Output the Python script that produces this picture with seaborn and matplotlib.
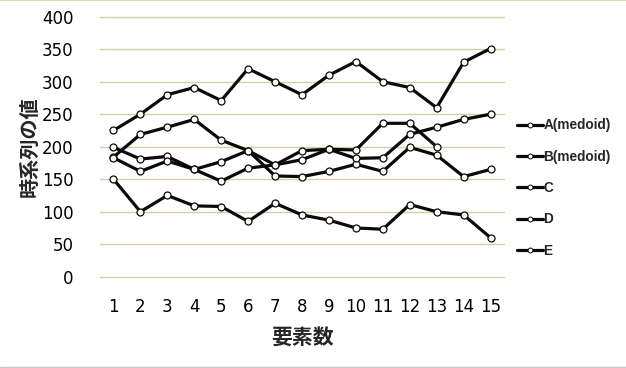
import numpy as np
import pandas as pd
import matplotlib
matplotlib.use("Agg")
import matplotlib.pyplot as plt
import seaborn as sns
from matplotlib.lines import Line2D

x_values = list(range(1, 16))
series_names = ["A(medoid)", "B(medoid)", "C", "D", "E"]
a_values = [225, 250, 280, 291, 271, 320, 300, 280, 310, 331, 300, 291, 260, 330, 351]
b_values = [150, 100, 125, 109, 108, 85, 113, 95, 87, 75, 73, 111, 100, 95, 60]
c_values = [184, 219, 230, 242, 210, 194, 155, 154, 162, 173, 162, 199, 187, 154, 165]
d_values = [199, 181, 185, 165, 177, 194, 172, 194, 196, 195, 236, 236, 200, np.nan, np.nan]
e_values = [183, 162, 178, 165, 147, 167, 172, 180, 196, 182, 183, 219, 230, 242, 250]
y_ticks = [0, 50, 100, 150, 200, 250, 300, 350, 400]
x_label = "要素数"
y_label = "時系列の値"

sns.set_theme(style="white")
plt.rcParams['font.family'] = ['DejaVu Sans', 'Noto Sans CJK JP']

fig = plt.figure(figsize=(6.26, 3.68), dpi=100)
ax = fig.add_axes([100/626, 1-276.7/368, 404/626, 260/368])

all_vals = [a_values, b_values, c_values, d_values, e_values]
for name, vals in zip(series_names, all_vals):
    df = pd.DataFrame({"x": x_values, "y": vals}).dropna()
    sns.lineplot(data=df, x="x", y="y", ax=ax, color="#0a0a0a", linewidth=2.3,
                 marker="o", markersize=5, markerfacecolor="#fffff4",
                 markeredgecolor="#0a0a0a", markeredgewidth=0.9, label=name,
                 legend=False)

ax.set_xlim(0.5, 15.5)
ax.set_ylim(0, 400)
ax.set_yticks(y_ticks)
ax.set_xticks(x_values)
ax.set_xticklabels([str(v) for v in x_values])
ax.grid(axis="y", color="#d5d0a6", linewidth=1.0)
ax.grid(axis="x", visible=False)
ax.set_axisbelow(True)
for gl in ax.yaxis.get_gridlines():
    gl.set_clip_on(False)
for s in ax.spines.values():
    s.set_visible(False)
ax.tick_params(axis="both", labelsize=12, colors="black", length=0)
ax.tick_params(axis="y", pad=19)
ax.tick_params(axis="x", pad=15)
ax.set_xlabel(x_label, fontsize=15, fontweight="bold", family=['Noto Sans CJK JP'], labelpad=9)
ax.set_ylabel(y_label, fontsize=14.5, fontweight="bold", family=['Noto Sans CJK JP'], labelpad=1.5)

handles = [Line2D([0], [0], color="#0a0a0a", linewidth=2.3, marker="o", markersize=3.5,
                  markerfacecolor="#fffff4", markeredgecolor="#0a0a0a", markeredgewidth=0.7)
           for _ in series_names]
fig.legend(handles, series_names, loc="upper left", bbox_to_anchor=(512/626, 1-113/368),
           frameon=False, prop={"family": "Liberation Sans", "weight": "bold", "size": 9.8},
           handlelength=1.9, handletextpad=0.0, labelspacing=1.27, borderaxespad=0)

fig.add_artist(Line2D([0, 1], [0.999, 0.999], color="#d5d0a6", linewidth=1.2, transform=fig.transFigure))
fig.add_artist(Line2D([0, 1], [0.004, 0.004], color="#c8c8c8", linewidth=1.0, transform=fig.transFigure))

fig.savefig("out.png", dpi=100)
